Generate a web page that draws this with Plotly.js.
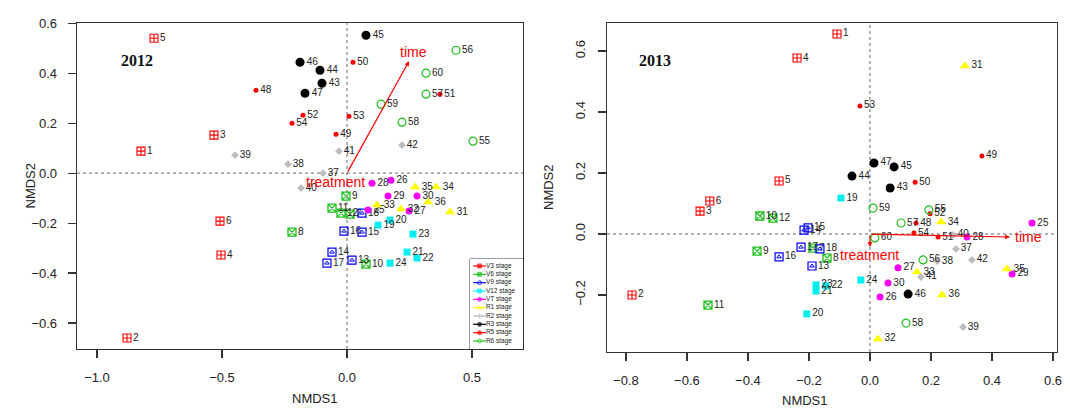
<!DOCTYPE html>
<html><head><meta charset="utf-8">
<script src="https://cdn.plot.ly/plotly-3.0.1.min.js"></script>
<style>html,body{margin:0;padding:0;background:#fff}#c{width:1070px;height:417px}</style>
</head><body><div id="c"></div>
<script>
// ---------- data ----------
const stages = ['V3 stage','V6 stage','V9 stage','V12 stage','VT stage','R1 stage','R2 stage','R3 stage','R5 stage','R6 stage'];
// number of samples per stage (samples 1..60 in order)
const stageCounts = [6,6,6,6,6,6,6,5,7,6];
const sampleLabels = ['1','2','3','4','5','6','7','8','9','10','11','12','13','14','15','16','17','18','19','20',
  '21','22','23','24','25','26','27','28','29','30','31','32','33','34','35','36','37','38','39','40',
  '41','42','43','44','45','46','47','48','49','50','51','52','53','54','55','56','57','58','59','60'];

const x2012 = [
 -0.824,-0.88,-0.532,-0.504,-0.772,-0.508,
 0.012,-0.22,-0.004,0.076,-0.06,-0.024,
 0.02,-0.06,0.06,-0.012,-0.08,0.06,
 0.124,0.172,0.24,0.28,0.264,0.172,
 0.084,0.176,0.248,0.1,0.164,0.28,
 0.412,0.216,0.12,0.356,0.272,0.324,
 -0.096,-0.236,-0.448,-0.184,-0.032,0.22,
 -0.1,-0.108,0.076,-0.188,-0.168,
 -0.364,-0.044,0.024,0.372,-0.176,0.008,-0.22,
 0.504,0.436,0.316,0.22,0.136,0.316];
const y2012 = [
 0.088,-0.66,0.152,-0.328,0.54,-0.192,
 -0.164,-0.236,-0.092,-0.364,-0.14,-0.16,
 -0.348,-0.316,-0.236,-0.232,-0.36,-0.16,
 -0.208,-0.188,-0.316,-0.34,-0.244,-0.36,
 -0.148,-0.028,-0.152,-0.04,-0.092,-0.092,
 -0.156,-0.144,-0.128,-0.056,-0.056,-0.116,
 0.0,0.036,0.072,-0.06,0.088,0.112,
 0.36,0.412,0.552,0.444,0.32,
 0.332,0.156,0.444,0.316,0.232,0.228,0.2,
 0.128,0.492,0.316,0.204,0.276,0.4];
const x2013 = [
 -0.108,-0.78,-0.557,-0.239,-0.298,-0.525,
 -0.187,-0.141,-0.37,-0.361,-0.531,-0.318,
 -0.19,-0.216,-0.203,-0.298,-0.226,-0.164,
 -0.095,-0.207,-0.177,-0.144,-0.177,-0.03,
 0.531,0.033,0.092,0.318,0.466,0.059,
 0.311,0.026,0.154,0.233,0.449,0.236,
 0.282,0.22,0.305,0.272,0.167,0.334,
 0.066,-0.059,0.079,0.125,0.013,
 0.151,0.367,0.148,0.223,0.197,-0.033,0.144,
 0.193,0.174,0.102,0.118,0.01,0.016];
const y2013 = [
 0.656,-0.2,0.075,0.577,0.174,0.108,
 -0.046,-0.079,-0.056,0.059,-0.233,0.052,
 -0.105,0.013,0.02,-0.075,-0.043,-0.049,
 0.118,-0.262,-0.187,-0.17,-0.167,-0.151,
 0.036,-0.207,-0.111,-0.01,-0.131,-0.161,
 0.551,-0.344,-0.125,0.039,-0.115,-0.2,
 -0.049,-0.089,-0.305,-0.003,-0.141,-0.085,
 0.151,0.19,0.22,-0.197,0.233,
 0.036,0.256,0.17,-0.01,0.066,0.42,0.003,
 0.079,-0.085,0.036,-0.292,0.085,-0.013];

// envfit vectors: [x, y] of arrow tips
const time2012 = [0.248, 0.448];
const time2013 = [0.459, -0.01];
const treat2013 = [0.0, -0.043];

// ---------- styles ----------
const RED='#ff0000', GRN='#1fc21f', BLU='#0000ff', CYN='#00f0f0', MAG='#ff00ff', YEL='#ffff00', GRY='#bdbdbd', BLK='#000000';
const stageStyle = [
 {sym:'square-cross-open', color:RED, size:8, lw:1.1},
 {sym:'square-x-open', color:GRN, size:8, lw:1.3},
 {sym:'square-open', color:BLU, size:8, lw:1.2, inner:'triangle-up-open'},
 {sym:'square', color:CYN, size:7, lw:0},
 {sym:'circle', color:MAG, size:7, lw:0},
 {sym:'triangle-up', color:YEL, size:9, lw:0},
 {sym:'diamond', color:GRY, size:6, lw:0},
 {sym:'circle', color:BLK, size:9, lw:0},
 {sym:'circle', color:RED, size:5, lw:0},
 {sym:'circle-open', color:GRN, size:8, lw:1.2}
];
const legendSym = ['square','square','circle-open','square','circle','triangle-up','cross-thin','circle','circle','circle-open'];

const traces = [];
function addYear(xs, ys, xa, ya){
  let start = 0;
  stageCounts.forEach((n, si) => {
    const st = stageStyle[si];
    const xx = xs.slice(start, start+n), yy = ys.slice(start, start+n), tt = sampleLabels.slice(start, start+n);
    traces.push({
      type:'scatter', mode:'markers+text', x:xx, y:yy, text:tt, xaxis:xa, yaxis:ya,
      textposition:'middle right', textfont:{family:'Liberation Sans, Arial, sans-serif', size:10, color:'#222'},
      marker:{symbol:st.sym, size:st.size, color:st.color, line:{color:st.color, width:st.lw}},
      showlegend:false, hoverinfo:'skip', cliponaxis:false
    });
    if (st.inner){
      traces.push({
        type:'scatter', mode:'markers', x:xx, y:yy, xaxis:xa, yaxis:ya,
        marker:{symbol:st.inner, size:4, color:st.color, line:{color:st.color, width:1}},
        showlegend:false, hoverinfo:'skip'
      });
    }
    start += n;
  });
}
addYear(x2012, y2012, 'x', 'y');
addYear(x2013, y2013, 'x2', 'y2');

// legend panel (drawn as small categorical subplot)
stages.forEach((s, i) => {
  const v = stages.length - 1 - i;
  traces.push({
    type:'scatter', mode:'lines+markers+text', xaxis:'x3', yaxis:'y3',
    x:[0.06, 0.18, 0.30], y:[v, v, v], text:['', '', s],
    textposition:'middle right', textfont:{family:'Liberation Sans, Arial, sans-serif', size:6.5, color:'#222'},
    line:{color:stageStyle[i].color === YEL ? '#ffff00' : stageStyle[i].color, width:1.2},
    marker:{symbol:legendSym[i], size:[0, 4, 0], color:stageStyle[i].color, line:{color:stageStyle[i].color, width:1}},
    showlegend:false, hoverinfo:'skip', cliponaxis:false
  });
});

const W=1070, H=417;
const px = v => v / W, py = v => (H - v) / H;
const tickFont = {family:'Liberation Sans Narrow, Arial Narrow, Liberation Sans, sans-serif', size:13, color:'#222'};
const axBase = {showgrid:false, zeroline:false, showline:true, mirror:true, linecolor:'#333', linewidth:1.3,
  ticks:'outside', ticklen:8, tickcolor:'#333', tickwidth:1.2, tickfont:tickFont, ticklabelstandoff:8, fixedrange:true};

const layout = {
  width:W, height:H, margin:{l:0,r:0,t:0,b:0}, paper_bgcolor:'#fff', plot_bgcolor:'#fff', showlegend:false,
  xaxis: Object.assign({}, axBase, {domain:[px(77), px(523)], range:[-1.08, 0.704], tickvals:[-1.0,-0.5,0.0,0.5], tickformat:'.1f', anchor:'y'}),
  yaxis: Object.assign({}, axBase, {domain:[py(349), py(23)], range:[-0.704, 0.601], tickvals:[-0.6,-0.4,-0.2,0,0.2,0.4,0.6], tickformat:'.1f', anchor:'x'}),
  xaxis2: Object.assign({}, axBase, {domain:[px(607), px(1057)], range:[-0.862, 0.613], tickvals:[-0.8,-0.6,-0.4,-0.2,0,0.2,0.4,0.6], tickformat:'.1f', anchor:'y2'}),
  yaxis2: Object.assign({}, axBase, {domain:[py(352), py(23)], range:[-0.387, 0.692], tickvals:[-0.2,0,0.2,0.4,0.6], tickformat:'.1f', tickangle:-90, anchor:'x2'}),
  xaxis3: {domain:[px(470), px(523)], range:[0, 1], visible:false, fixedrange:true, anchor:'y3'},
  yaxis3: {domain:[py(349), py(259)], range:[-0.96, 9.84], visible:false, fixedrange:true, anchor:'x3'},
  shapes: [
    {type:'line', xref:'x', yref:'y domain', x0:0, x1:0, y0:0, y1:1, line:{color:'#666', width:1, dash:'dot'}, layer:'below'},
    {type:'line', xref:'x domain', yref:'y', x0:0, x1:1, y0:0, y1:0, line:{color:'#666', width:1, dash:'dot'}, layer:'below'},
    {type:'line', xref:'x2', yref:'y2 domain', x0:0, x1:0, y0:0, y1:1, line:{color:'#666', width:1, dash:'dot'}, layer:'below'},
    {type:'line', xref:'x2 domain', yref:'y2', x0:0, x1:1, y0:0, y1:0, line:{color:'#666', width:1, dash:'dot'}, layer:'below'},
    {type:'rect', xref:'x3 domain', yref:'y3 domain', x0:0, x1:1, y0:0, y1:1, line:{color:'#333', width:1}, fillcolor:'#fff', layer:'below'}
  ],
  annotations: [
    {xref:'paper', yref:'paper', x:px(119), y:py(50), text:'<b>2012</b>', showarrow:false, font:{family:'Liberation Serif, Times New Roman, serif', size:16, color:'#111'}},
    {xref:'paper', yref:'paper', x:px(655), y:py(50), text:'<b>2013</b>', showarrow:false, font:{family:'Liberation Serif, Times New Roman, serif', size:16, color:'#111'}},
    {xref:'paper', yref:'paper', x:px(20), y:py(186), text:'NMDS2', textangle:-90, showarrow:false, font:tickFont},
    {xref:'paper', yref:'paper', x:px(290), y:py(408), text:'NMDS1', showarrow:false, font:tickFont},
    {xref:'paper', yref:'paper', x:px(548), y:py(187), text:'NMDS2', textangle:-90, showarrow:false, font:tickFont},
    {xref:'paper', yref:'paper', x:px(830), y:py(410), text:'NMDS1', showarrow:false, font:tickFont},
    // arrows
    {xref:'x', yref:'y', axref:'x', ayref:'y', x:time2012[0], y:time2012[1], ax:0, ay:0, text:'', showarrow:true, arrowhead:2, arrowsize:0.8, arrowwidth:1.2, arrowcolor:RED, standoff:0},
    {xref:'x', yref:'y', x:time2012[0]+0.016, y:time2012[1]+0.036, text:'time', showarrow:false, font:{family:'Liberation Sans, Arial, sans-serif', size:14, color:RED}},
    {xref:'x', yref:'y', x:-0.048, y:-0.036, text:'treatment', showarrow:false, font:{family:'Liberation Sans, Arial, sans-serif', size:14, color:RED}},
    {xref:'x2', yref:'y2', axref:'x2', ayref:'y2', x:time2013[0], y:time2013[1], ax:0, ay:0, text:'', showarrow:true, arrowhead:2, arrowsize:0.8, arrowwidth:1.2, arrowcolor:RED, standoff:0},
    {xref:'x2', yref:'y2', axref:'x2', ayref:'y2', x:treat2013[0], y:treat2013[1], ax:0, ay:0, text:'', showarrow:true, arrowhead:2, arrowsize:0.8, arrowwidth:1.2, arrowcolor:RED, standoff:0},
    {xref:'x2', yref:'y2', x:time2013[0]+0.01, y:time2013[1], xanchor:'left', text:'time', showarrow:false, font:{family:'Liberation Sans, Arial, sans-serif', size:14, color:RED}},
    {xref:'x2', yref:'y2', x:-0.003, y:-0.069, text:'treatment', showarrow:false, font:{family:'Liberation Sans, Arial, sans-serif', size:14, color:RED}}
  ]
};
Plotly.newPlot('c', traces, layout, {staticPlot:true, displayModeBar:false});
</script>
</body></html>
